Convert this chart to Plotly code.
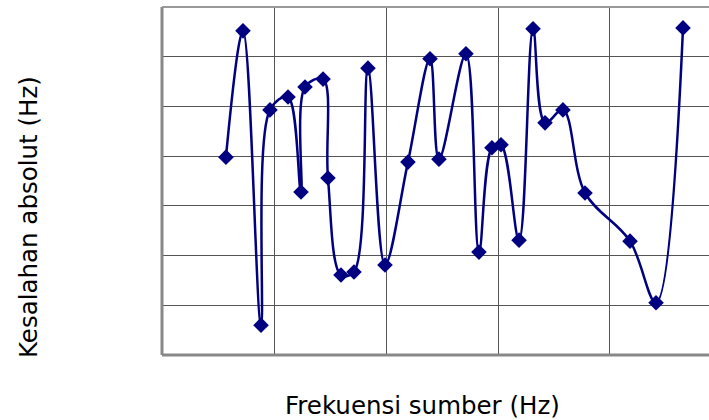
import plotly.graph_objects as go

# Data (grid units: x gridlines every 1, y gridlines every 1)
freq = [0.571, 0.723, 0.884, 0.964, 1.125, 1.241, 1.277, 1.438, 1.482, 1.598,
        1.714, 1.839, 1.991, 2.196, 2.393, 2.473, 2.714, 2.830, 2.946, 3.027,
        3.188, 3.313, 3.420, 3.580, 3.777, 4.179, 4.411, 4.652]
err = [3.98, 6.52, 0.60, 4.93, 5.19, 3.28, 5.39, 5.55, 3.56, 1.61,
       1.67, 5.77, 1.81, 3.88, 5.96, 3.94, 6.06, 2.07, 4.17, 4.23,
       2.31, 6.56, 4.67, 4.93, 3.26, 2.29, 1.05, 6.58]

x_title = "Frekuensi sumber (Hz)"
y_title = "Kesalahan absolut (Hz)"

L, T, B = 162, 7, 355
W = 709 - L
H = B - T

fig = go.Figure()
fig.add_trace(go.Scatter(
    x=freq, y=err, mode="lines+markers",
    line=dict(color="#000080", width=2.5, shape="spline", smoothing=1.0),
    marker=dict(symbol="diamond", size=12, color="#000080"),
    showlegend=False,
))

fig.update_layout(
    width=709, height=420,
    margin=dict(l=L, r=0, t=T, b=420 - B),
    paper_bgcolor="white", plot_bgcolor="white",
    xaxis=dict(range=[0, 4.884], dtick=1, tick0=0, showticklabels=False,
               showgrid=True, gridcolor="#555555", gridwidth=1,
               zeroline=False, showline=False, ticks=""),
    yaxis=dict(range=[0, 7], dtick=1, tick0=0, showticklabels=False,
               showgrid=True, gridcolor="#555555", gridwidth=1,
               zeroline=False, showline=False, ticks=""),
    shapes=[
        dict(type="line", xref="paper", yref="paper", x0=0, x1=0, y0=0, y1=1,
             line=dict(color="#888888", width=3)),
        dict(type="line", xref="paper", yref="paper", x0=0, x1=1, y0=0, y1=0,
             line=dict(color="#888888", width=3)),
        dict(type="line", xref="paper", yref="paper", x0=0, x1=1, y0=1, y1=1,
             line=dict(color="#999999", width=2)),
    ],
    annotations=[
        dict(text=x_title, xref="paper", yref="paper", x=(422 - L) / W, y=-(405 - B) / H,
             showarrow=False, xanchor="center", yanchor="middle",
             font=dict(family="DejaVu Sans", size=24.5, color="black")),
        dict(text=y_title, xref="paper", yref="paper", x=-(L - 28) / W, y=(B - 217) / H,
             showarrow=False, xanchor="center", yanchor="middle", textangle=-90,
             font=dict(family="DejaVu Sans", size=24.5, color="black")),
    ],
)

fig.write_html("out.html")
